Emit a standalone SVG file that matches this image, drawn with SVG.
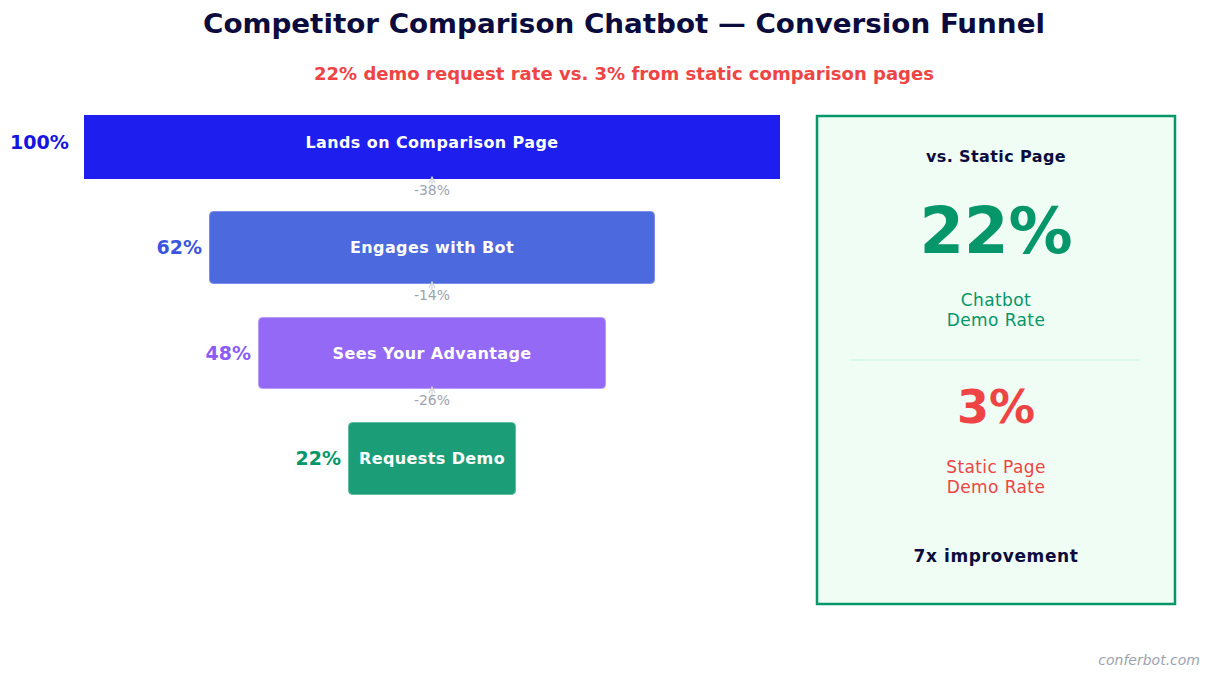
<svg xmlns="http://www.w3.org/2000/svg" width="1209" height="678" viewBox="0 0 1209 678">
<style>
text{font-family:"DejaVu Sans","Liberation Sans",sans-serif}
.cond{font-family:"DejaVu Sans Condensed","DejaVu Sans",sans-serif;font-stretch:condensed;font-weight:bold}
.lbl{font-size:16px;font-weight:bold;fill:#ffffff;text-anchor:middle;letter-spacing:0.4px}
.pct{font-size:19px;font-weight:bold;text-anchor:end}
.drop{font-size:14px;fill:#9ca3af;text-anchor:middle}
.conn{stroke:#d1d5db;stroke-width:1.2;fill:none}
.mid{text-anchor:middle}
</style>
<rect width="1209" height="678" fill="#ffffff"/>
<text class="cond mid" x="624" y="33" font-size="27" fill="#0b0b3d" textLength="842" lengthAdjust="spacingAndGlyphs">Competitor Comparison Chatbot — Conversion Funnel</text>
<text class="cond mid" x="624" y="80" font-size="17" fill="#ef4444" textLength="620" lengthAdjust="spacingAndGlyphs">22% demo request rate vs. 3% from static comparison pages</text>

<g id="stage1">
<rect x="84" y="115" width="696" height="64" fill="#1e1eef"/>
<text class="cond lbl" x="432" y="148" textLength="253" lengthAdjust="spacingAndGlyphs">Lands on Comparison Page</text>
<text class="cond pct" x="69" y="149" fill="#1515e0" textLength="59" lengthAdjust="spacingAndGlyphs">100%</text>
</g>
<g id="stage2">
<rect x="209.5" y="211.5" width="445" height="72" rx="4" fill="#4d69de" stroke="#7b8fe8" stroke-width="1"/>
<text class="lbl" x="432" y="253">Engages with Bot</text>
<text class="pct" x="202" y="254" fill="#3b55dc">62%</text>
</g>
<g id="stage3">
<rect x="258.5" y="317.5" width="347" height="71" rx="4" fill="#9469f5" stroke="#b89cf8" stroke-width="1"/>
<text class="lbl" x="432" y="359">Sees Your Advantage</text>
<text class="pct" x="251" y="360" fill="#8b5cf6">48%</text>
</g>
<g id="stage4">
<rect x="348.5" y="422.5" width="167" height="72" rx="4" fill="#1b9e77" stroke="#5fbe9f" stroke-width="1"/>
<text class="lbl" x="432" y="464">Requests Demo</text>
<text class="pct" x="341" y="465" fill="#059669">22%</text>
</g>

<g id="connectors">
<line class="conn" x1="432" y1="185" x2="432" y2="178"/>
<path class="conn" d="M429,183 L432,177 L435,183"/>
<text class="drop" x="432" y="195">-38%</text>
<line class="conn" x1="432" y1="290" x2="432" y2="283"/>
<path class="conn" d="M429,288 L432,282 L435,288"/>
<text class="drop" x="432" y="300">-14%</text>
<line class="conn" x1="432" y1="395" x2="432" y2="388"/>
<path class="conn" d="M429,393 L432,387 L435,393"/>
<text class="drop" x="432" y="405">-26%</text>
</g>

<g id="panel">
<rect x="817" y="116" width="358" height="488" fill="#effdf4" stroke="#059669" stroke-width="2.5"/>
<text class="mid" x="996" y="162" font-size="16" font-weight="bold" fill="#0b0b3d" letter-spacing="0.4">vs. Static Page</text>
<text class="mid" x="996" y="253" font-size="64" font-weight="bold" fill="#059669">22%</text>
<text class="mid" x="996" y="306" font-size="17" fill="#059669" letter-spacing="0.4">Chatbot</text>
<text class="mid" x="996" y="326" font-size="17" fill="#059669" letter-spacing="0.4">Demo Rate</text>
<line x1="851" y1="360" x2="1140" y2="360" stroke="#d1fae5" stroke-width="1.5"/>
<text class="mid" x="996" y="423" font-size="46" font-weight="bold" fill="#ef4444">3%</text>
<text class="mid" x="996" y="473" font-size="17" fill="#ef4444" letter-spacing="0.4">Static Page</text>
<text class="mid" x="996" y="493" font-size="17" fill="#ef4444" letter-spacing="0.4">Demo Rate</text>
<text class="mid" x="996" y="562" font-size="17" font-weight="bold" fill="#0b0b3d" letter-spacing="0.6">7x improvement</text>
</g>
<text x="1200" y="665" font-size="14" font-style="italic" fill="#9ca3af" text-anchor="end">conferbot.com</text>
</svg>
